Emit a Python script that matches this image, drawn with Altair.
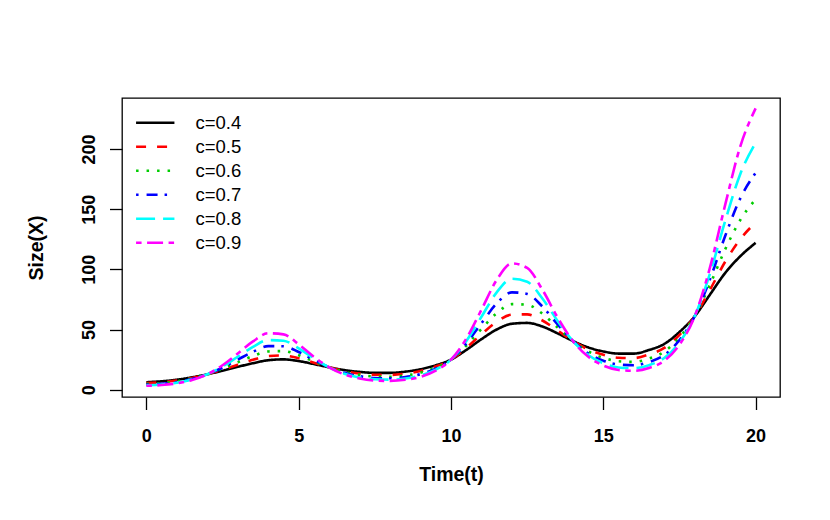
import altair as alt
import pandas as pd

# Time grid
t = [0.0, 0.5, 1.0, 1.5, 2.0, 2.5, 3.0, 3.5, 4.0, 4.5,
     5.0, 5.5, 6.0, 6.5, 7.0, 7.5, 8.0, 8.5, 9.0, 9.5,
     10.0, 10.5, 11.0, 11.5, 12.0, 12.5, 13.0, 13.5, 14.0, 14.5,
     15.0, 15.5, 16.0, 16.5, 17.0, 17.5, 18.0, 18.5, 19.0, 19.5, 20.0]

c04 = [6.2, 7.0, 8.3, 10.3, 12.8, 15.8, 19.0, 22.0, 24.5, 25.2,
       23.8, 21.3, 18.6, 16.3, 14.8, 14.0, 14.0, 15.0, 17.0, 20.3,
       25.0, 33.0, 42.0, 50.0, 54.8, 55.5, 52.5, 46.8, 40.5, 35.2,
       31.8, 30.0, 30.0, 33.0, 38.0, 48.0, 61.0, 79.0, 97.0, 111.0, 122.0]
c05 = [5.44, 6.21, 7.57, 9.80, 12.8, 16.6, 20.8, 24.8, 27.9, 28.4,
       26.1, 22.4, 18.6, 15.5, 13.5, 12.4, 12.3, 13.3, 15.5, 19.3,
       25.0, 34.7, 46.0, 56.4, 62.4, 62.6, 57.5, 49.2, 40.5, 33.5,
       29.0, 26.6, 26.3, 29.3, 34.7, 45.6, 61.0, 83.0, 106.3, 125.2, 139.0]
c06 = [4.78, 5.50, 6.91, 9.32, 12.8, 17.5, 22.8, 28.0, 31.8, 32.1,
       28.6, 23.5, 18.6, 14.8, 12.3, 11.0, 10.8, 11.8, 14.1, 18.4,
       25.0, 36.5, 50.5, 63.6, 71.1, 70.6, 63.1, 51.7, 40.5, 31.9,
       26.5, 23.6, 23.1, 25.9, 31.6, 43.4, 61.0, 87.3, 116.6, 141.2, 158.2]
c07 = [4.20, 4.88, 6.30, 8.87, 12.8, 18.3, 25.0, 31.5, 36.2, 36.1,
       31.3, 24.7, 18.6, 14.0, 11.2, 9.76, 9.48, 10.5, 12.9, 17.5,
       25.0, 38.3, 55.3, 71.7, 80.9, 79.6, 69.1, 54.3, 40.5, 30.3,
       24.1, 20.9, 20.3, 23.0, 28.8, 41.3, 61.0, 91.7, 127.7, 159.2, 180.2]
c08 = [3.69, 4.33, 5.74, 8.44, 12.8, 19.3, 27.4, 35.6, 41.2, 40.7,
       34.4, 26.0, 18.6, 13.3, 10.2, 8.65, 8.33, 9.27, 11.8, 16.6,
       25.0, 40.3, 60.6, 80.9, 92.2, 89.7, 75.8, 57.1, 40.5, 28.8,
       22.0, 18.5, 17.9, 20.4, 26.3, 39.3, 61.0, 96.4, 140.1, 179.5, 205.2]
c09 = [3.24, 3.84, 5.25, 8.03, 12.8, 20.3, 30.1, 40.1, 46.9, 46.0,
       37.7, 27.3, 18.6, 12.7, 9.35, 7.67, 7.31, 8.22, 10.7, 15.8,
       25.0, 42.3, 66.5, 91.2, 105.0, 101.2, 83.1, 60.0, 40.5, 27.5,
       20.1, 16.4, 15.7, 18.1, 24.0, 37.4, 61.0, 101.4, 153.6, 202.5, 233.8]

labels = ["c=0.4", "c=0.5", "c=0.6", "c=0.7", "c=0.8", "c=0.9"]
series = [c04, c05, c06, c07, c08, c09]
colors = ["#000000", "#FF0000", "#00CD00", "#0000FF", "#00FFFF", "#FF00FF"]
dashes = [[1, 0], [10, 11], [2.5, 8], [2.5, 8, 11, 7], [19, 8], [5.5, 5.5, 16, 5.5]]

x_ticks = [0, 5, 10, 15, 20]
y_ticks = [0, 50, 100, 150, 200]

rows = []
for lab, vals in zip(labels, series):
    for ti, v in zip(t, vals):
        rows.append({"t": ti, "X": v, "c": lab})
df = pd.DataFrame(rows)

FONT = "Liberation Sans"

legend = alt.Legend(
    title=None, orient="none", legendX=24, legendY=15.5,
    symbolType="M-4,0H4", symbolSize=92, symbolStrokeWidth=2.6,
    labelFont=FONT, labelFontSize=18.5, labelColor="black", labelOffset=31,
    rowPadding=5, padding=0,
)

chart = alt.Chart(df).mark_line(strokeWidth=2.6, interpolate="monotone", clip=True).encode(
    x=alt.X("t:Q",
            scale=alt.Scale(domain=[-0.8, 20.8], nice=False, zero=False),
            axis=alt.Axis(values=x_ticks, title="Time(t)", grid=False, domain=False,
                          tickSize=12.5, tickColor="black", tickWidth=1.3,
                          labelFont=FONT, labelFontWeight="bold", labelFontSize=18,
                          labelColor="black", labelPadding=31.5, labelBaseline="alphabetic",
                          titleFont=FONT, titleFontWeight="bold", titleFontSize=19.5,
                          titleColor="black", titleBaseline="alphabetic",
                          titleX=329, titleY=83)),
    y=alt.Y("X:Q",
            scale=alt.Scale(domain=[-6.07, 242.4], nice=False, zero=False),
            axis=alt.Axis(values=y_ticks, title="Size(X)", grid=False, domain=False,
                          tickSize=12.5, tickColor="black", tickWidth=1.3,
                          labelFont=FONT, labelFontWeight="bold", labelFontSize=18,
                          labelColor="black", labelAngle=270, labelAlign="center",
                          labelBaseline="alphabetic", labelPadding=15,
                          titleFont=FONT, titleFontWeight="bold", titleFontSize=19.5,
                          titleColor="black", titleAngle=270, titleAlign="center",
                          titleBaseline="alphabetic", titleX=-80, titleY=149.5)),
    color=alt.Color("c:N", scale=alt.Scale(domain=labels, range=colors), legend=legend),
    strokeDash=alt.StrokeDash("c:N", scale=alt.Scale(domain=labels, range=dashes), legend=legend),
).properties(
    width=658, height=299,
    padding={"left": 114, "top": 90, "right": 30, "bottom": 110},
    autosize=alt.AutoSizeParams(type="none"),
    background="white",
).configure_view(stroke="black", strokeWidth=1.3)

chart.save("out.html", embed_options={"renderer": "svg", "actions": False})
